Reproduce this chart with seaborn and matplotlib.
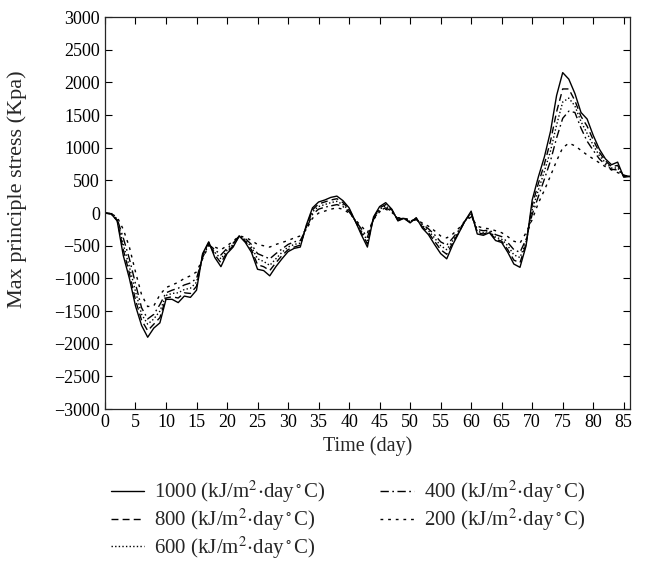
import numpy as np
import pandas as pd
import seaborn as sns
import matplotlib.pyplot as plt

# --- dados (tensao principal maxima, kPa) ---
days = list(range(0, 87))

s1000 = [0, -10, -120, -650, -1000, -1420, -1720, -1900, -1760, -1680,
         -1320, -1320, -1370, -1270, -1290, -1180, -620, -440, -680, -820,
         -620, -520, -350, -450, -600, -860, -880, -960, -820, -700,
         -590, -540, -520, -180, 80, 170, 200, 240, 260, 190,
         80, -120, -330, -520, -60, 100, 160, 60, -120, -80,
         -150, -70, -230, -330, -480, -620, -700, -480, -300, -120,
         30, -320, -340, -300, -420, -450, -600, -780, -830, -500,
         200, 550, 860, 1250, 1800, 2150, 2050, 1830, 1540, 1440,
         1190, 980, 830, 740, 780, 550, 560]

s800 = [0, -10, -110, -560, -920, -1330, -1640, -1800, -1700, -1600,
        -1300, -1280, -1300, -1220, -1230, -1120, -640, -450, -640, -760,
        -600, -500, -350, -430, -560, -790, -820, -880, -760, -650,
        -560, -520, -490, -200, 50, 140, 170, 200, 220, 160,
        60, -120, -300, -470, -70, 80, 130, 50, -110, -80,
        -140, -80, -210, -300, -430, -560, -630, -450, -290, -120,
        10, -300, -320, -290, -400, -430, -560, -720, -760, -470,
        120, 450, 750, 1100, 1550, 1900, 1900, 1720, 1480, 1330,
        1120, 930, 800, 710, 730, 560, 560]

s600 = [0, -10, -100, -480, -820, -1200, -1550, -1700, -1620, -1500,
        -1260, -1230, -1220, -1170, -1150, -1060, -660, -460, -600, -700,
        -570, -480, -350, -410, -520, -700, -740, -800, -700, -600,
        -520, -480, -460, -220, 20, 100, 130, 160, 180, 130,
        40, -120, -270, -420, -80, 60, 110, 40, -100, -80,
        -130, -90, -190, -270, -380, -500, -560, -420, -280, -120,
        -10, -280, -300, -280, -370, -400, -500, -640, -680, -440,
        50, 350, 640, 950, 1350, 1700, 1760, 1640, 1400, 1220,
        1040, 880, 770, 690, 690, 570, 560]

s400 = [0, -10, -90, -380, -700, -1080, -1450, -1620, -1550, -1400,
        -1220, -1180, -1150, -1100, -1070, -1000, -680, -480, -560, -640,
        -540, -460, -350, -390, -480, -620, -660, -700, -620, -550,
        -480, -440, -420, -240, -20, 60, 90, 110, 130, 100,
        20, -110, -240, -370, -90, 40, 80, 30, -90, -80,
        -120, -100, -170, -240, -330, -440, -490, -380, -260, -120,
        -30, -250, -270, -260, -330, -360, -450, -560, -600, -400,
        -20, 250, 520, 800, 1150, 1450, 1560, 1540, 1300, 1100,
        960, 830, 740, 670, 660, 580, 560]

s200 = [0, -10, -60, -250, -520, -900, -1250, -1430, -1420, -1250,
        -1140, -1100, -1060, -1000, -960, -900, -700, -500, -520, -560,
        -500, -430, -350, -370, -420, -480, -500, -520, -480, -450,
        -420, -380, -350, -250, -80, 0, 30, 60, 80, 60,
        0, -100, -200, -300, -100, 20, 60, 10, -70, -80,
        -100, -110, -150, -200, -270, -350, -380, -320, -230, -120,
        -60, -200, -230, -240, -270, -300, -360, -430, -460, -300,
        -100, 150, 350, 570, 800, 1000, 1070, 1030, 960, 890,
        830, 770, 710, 660, 620, 580, 550]

labels = [r'1000 (kJ/m$^2$$\cdot$day$^\circ$C)',
          r'800 (kJ/m$^2$$\cdot$day$^\circ$C)',
          r'600 (kJ/m$^2$$\cdot$day$^\circ$C)',
          r'400 (kJ/m$^2$$\cdot$day$^\circ$C)',
          r'200 (kJ/m$^2$$\cdot$day$^\circ$C)']

series = [s1000, s800, s600, s400, s200]
linestyles = ['-', (0, (5, 3)), (0, (1, 1.6)), (0, (6, 2.5, 1.2, 2.5)), (0, (2, 3.5))]

sns.set_style('ticks')
plt.rcParams['font.family'] = ['Liberation Serif', 'DejaVu Serif']
plt.rcParams['mathtext.fontset'] = 'stix'
plt.rcParams['font.size'] = 12

fig = plt.figure(figsize=(6.52, 5.69), dpi=100)
ax = fig.add_axes([0.161, 0.281, 0.805, 0.689])

for vals, lab, ls in zip(series, labels, linestyles):
    df = pd.DataFrame({'Dia': days, 'Tensao': vals})
    sns.lineplot(data=df, x='Dia', y='Tensao', ax=ax, color='black',
                 linewidth=1.0, linestyle=ls, label=lab)

ax.set_xlim(0, 86)
ax.set_ylim(-3000, 3000)
ax.set_xticks(np.arange(0, 86, 5))
ax.set_yticks(np.arange(-3000, 3001, 500))
ax.tick_params(direction='in', length=5, width=0.8, top=True, right=True,
               labelsize=13, colors='black')
for sp in ax.spines.values():
    sp.set_linewidth(0.9)
ax.set_xlabel('Time (day)', fontsize=14.5)
ax.set_ylabel('Max principle stress (Kpa)', fontsize=16)
ax.yaxis.set_label_coords(-0.148, 0.56)

ax.legend(loc='upper center', bbox_to_anchor=(0.463, -0.13), ncol=2,
          frameon=False, fontsize=15, handlelength=1.6, columnspacing=2.6,
          labelspacing=0.07, handletextpad=0.5)

plt.savefig('out.png', dpi=100)
